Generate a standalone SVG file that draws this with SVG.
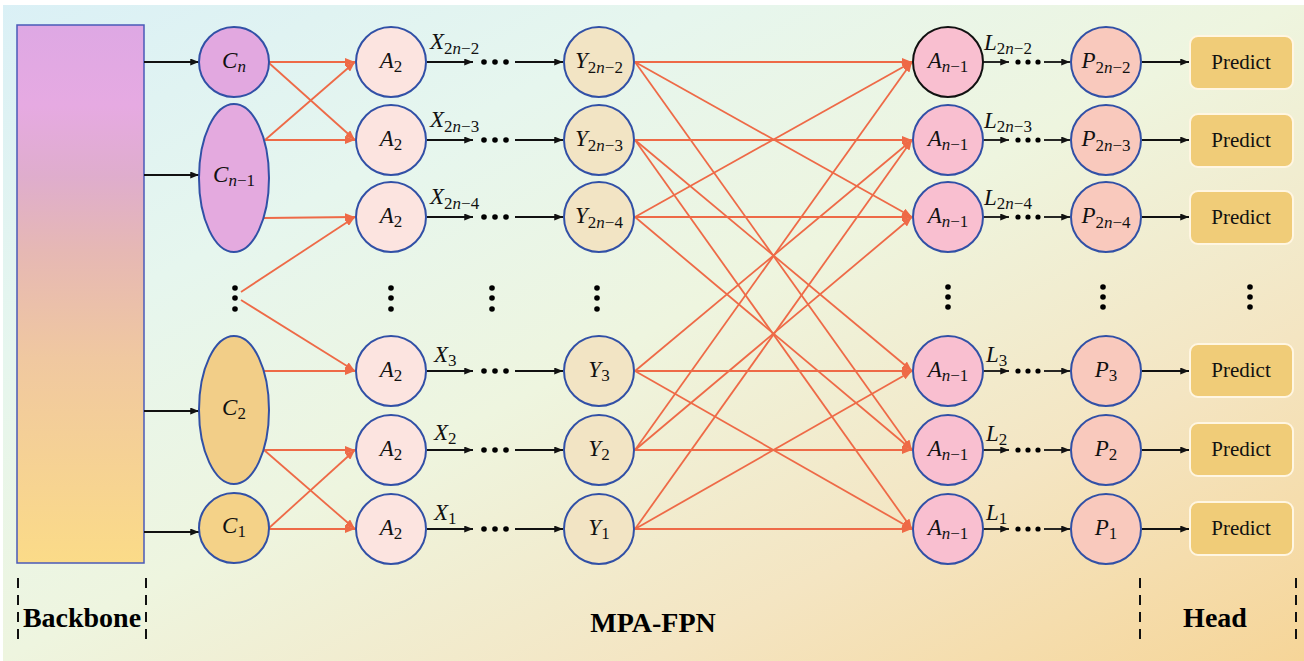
<svg xmlns="http://www.w3.org/2000/svg" width="1304" height="661" viewBox="0 0 1304 661">
  <defs>
    <linearGradient id="bg" gradientUnits="userSpaceOnUse" x1="0" y1="0" x2="533" y2="1052">
      <stop offset="0" stop-color="#daf0f6"/>
      <stop offset="0.27" stop-color="#e6f6ee"/>
      <stop offset="0.5" stop-color="#eef5df"/>
      <stop offset="0.75" stop-color="#f4e5c2"/>
      <stop offset="1" stop-color="#f6d598"/>
    </linearGradient>
    <linearGradient id="bb" x1="0" y1="0" x2="0" y2="1">
      <stop offset="0" stop-color="#dea8e4"/>
      <stop offset="0.15" stop-color="#e6aae2"/>
      <stop offset="0.28" stop-color="#dfadcd"/>
      <stop offset="0.42" stop-color="#e6b8b4"/>
      <stop offset="0.62" stop-color="#f0c8a0"/>
      <stop offset="1" stop-color="#fbdb88"/>
    </linearGradient>
    <marker id="ao" markerUnits="userSpaceOnUse" viewBox="0 0 10 8" markerWidth="10" markerHeight="8" refX="10" refY="4" orient="auto">
      <path d="M0,0 L10,4 L0,8 z" fill="#ee6a47"/>
    </marker>
    <marker id="ab" markerUnits="userSpaceOnUse" viewBox="0 0 10 8" markerWidth="9" markerHeight="7" refX="10" refY="4" orient="auto">
      <path d="M0,0 L10,4 L0,8 z" fill="#111"/>
    </marker>
  </defs>
  <style>
    .node{stroke:#3150a6;stroke-width:2}
    .lbl{font-family:"Liberation Serif","DejaVu Serif",serif;font-size:23px;fill:#111}
    .mid{text-anchor:middle}
    .it{font-style:italic}
    .sub{font-size:17px}
    .oline{stroke:#ee6a47;stroke-width:1.8;fill:none;marker-end:url(#ao)}
    .bline{stroke:#111;stroke-width:1.8;fill:none;marker-end:url(#ab)}
    .dot{fill:#000}
    .dash{stroke:#111;stroke-width:2;stroke-dasharray:10 7}
    .sec{font-family:"Liberation Serif","DejaVu Serif",serif;font-weight:bold;font-size:28px;text-anchor:middle;fill:#000}
    .pred{fill:#f0cc78;stroke:#fff6e2;stroke-width:2}
    .ptxt{font-family:"Liberation Serif","DejaVu Serif",serif;font-size:21px;text-anchor:middle;fill:#111}
  </style>

  <!-- canvas -->
  <rect x="3" y="5" width="1301" height="656" fill="url(#bg)"/>

  <!-- backbone column -->
  <g id="backbone">
    <rect x="17" y="25" width="127" height="538" fill="url(#bb)" stroke="#4a5ab8" stroke-width="1.5"/>
  </g>

  <!-- connectors -->
  <g id="connectors">
    <!-- backbone to C levels -->
    <line class="bline" x1="144" y1="62" x2="199" y2="62"/>
    <line class="bline" x1="144" y1="175" x2="199" y2="175"/>
    <line class="bline" x1="144" y1="411" x2="199" y2="411"/>
    <line class="bline" x1="144" y1="532" x2="199" y2="532"/>

    <!-- C levels to A2 blocks -->
    <path class="oline" d="M269,62 L355,62"/>
    <path class="oline" d="M269,63 L355,140"/>
    <path class="oline" d="M265,140 L355,62"/>
    <path class="oline" d="M265,140 L355,140"/>
    <path class="oline" d="M264,218 L355,217"/>
    <path class="oline" d="M241,292 L355,217"/>
    <path class="oline" d="M241,300 L355,371"/>
    <path class="oline" d="M264,371 L355,371"/>
    <path class="oline" d="M264,450 L355,450"/>
    <path class="oline" d="M264,450 L355,529"/>
    <path class="oline" d="M269,528 L355,450"/>
    <path class="oline" d="M269,529 L355,529"/>

    <!-- A2 to Y chains -->
    <g id="xchains">
      <line class="bline" x1="427" y1="62" x2="473" y2="62"/><line class="bline" x1="515" y1="62" x2="563" y2="62"/>
      <line class="bline" x1="427" y1="140" x2="473" y2="140"/><line class="bline" x1="515" y1="140" x2="563" y2="140"/>
      <line class="bline" x1="427" y1="217" x2="473" y2="217"/><line class="bline" x1="515" y1="217" x2="563" y2="217"/>
      <line class="bline" x1="427" y1="371" x2="473" y2="371"/><line class="bline" x1="515" y1="371" x2="563" y2="371"/>
      <line class="bline" x1="427" y1="450" x2="473" y2="450"/><line class="bline" x1="515" y1="450" x2="563" y2="450"/>
      <line class="bline" x1="427" y1="529" x2="473" y2="529"/><line class="bline" x1="515" y1="529" x2="563" y2="529"/>
    </g>

    <!-- Y to A(n-1) fusion, same-parity levels -->
    <path class="oline" d="M635,62 L912,62"/>
    <path class="oline" d="M635,62 L912,217"/>
    <path class="oline" d="M635,62 L912,450"/>
    <path class="oline" d="M635,140 L912,140"/>
    <path class="oline" d="M635,140 L912,371"/>
    <path class="oline" d="M635,140 L912,529"/>
    <path class="oline" d="M635,217 L912,62"/>
    <path class="oline" d="M635,217 L912,217"/>
    <path class="oline" d="M635,217 L912,450"/>
    <path class="oline" d="M635,371 L912,140"/>
    <path class="oline" d="M635,371 L912,371"/>
    <path class="oline" d="M635,371 L912,529"/>
    <path class="oline" d="M635,450 L912,62"/>
    <path class="oline" d="M635,450 L912,217"/>
    <path class="oline" d="M635,450 L912,450"/>
    <path class="oline" d="M635,529 L912,140"/>
    <path class="oline" d="M635,529 L912,371"/>
    <path class="oline" d="M635,529 L912,529"/>

    <!-- A(n-1) to P chains -->
    <g id="lchains">
      <line class="bline" x1="983" y1="62" x2="1009" y2="62"/><line class="bline" x1="1044" y1="62" x2="1070" y2="62"/>
      <line class="bline" x1="983" y1="140" x2="1009" y2="140"/><line class="bline" x1="1044" y1="140" x2="1070" y2="140"/>
      <line class="bline" x1="983" y1="217" x2="1009" y2="217"/><line class="bline" x1="1044" y1="217" x2="1070" y2="217"/>
      <line class="bline" x1="983" y1="371" x2="1009" y2="371"/><line class="bline" x1="1044" y1="371" x2="1070" y2="371"/>
      <line class="bline" x1="983" y1="450" x2="1009" y2="450"/><line class="bline" x1="1044" y1="450" x2="1070" y2="450"/>
      <line class="bline" x1="983" y1="529" x2="1009" y2="529"/><line class="bline" x1="1044" y1="529" x2="1070" y2="529"/>
    </g>

    <!-- P to heads -->
    <line class="bline" x1="1142" y1="62" x2="1189" y2="62"/>
    <line class="bline" x1="1142" y1="140" x2="1189" y2="140"/>
    <line class="bline" x1="1142" y1="217" x2="1189" y2="217"/>
    <line class="bline" x1="1142" y1="371" x2="1189" y2="371"/>
    <line class="bline" x1="1142" y1="450" x2="1189" y2="450"/>
    <line class="bline" x1="1142" y1="529" x2="1189" y2="529"/>
  </g>

  <!-- ellipsis dots -->
  <g id="ellipses" class="dot">
    <circle cx="484" cy="62" r="2.8"/><circle cx="495" cy="62" r="2.8"/><circle cx="506" cy="62" r="2.8"/>
    <circle cx="484" cy="140" r="2.8"/><circle cx="495" cy="140" r="2.8"/><circle cx="506" cy="140" r="2.8"/>
    <circle cx="484" cy="217" r="2.8"/><circle cx="495" cy="217" r="2.8"/><circle cx="506" cy="217" r="2.8"/>
    <circle cx="484" cy="371" r="2.8"/><circle cx="495" cy="371" r="2.8"/><circle cx="506" cy="371" r="2.8"/>
    <circle cx="484" cy="450" r="2.8"/><circle cx="495" cy="450" r="2.8"/><circle cx="506" cy="450" r="2.8"/>
    <circle cx="484" cy="529" r="2.8"/><circle cx="495" cy="529" r="2.8"/><circle cx="506" cy="529" r="2.8"/>

    <circle cx="1018" cy="62" r="2.6"/><circle cx="1028" cy="62" r="2.6"/><circle cx="1038" cy="62" r="2.6"/>
    <circle cx="1018" cy="140" r="2.6"/><circle cx="1028" cy="140" r="2.6"/><circle cx="1038" cy="140" r="2.6"/>
    <circle cx="1018" cy="217" r="2.6"/><circle cx="1028" cy="217" r="2.6"/><circle cx="1038" cy="217" r="2.6"/>
    <circle cx="1018" cy="371" r="2.6"/><circle cx="1028" cy="371" r="2.6"/><circle cx="1038" cy="371" r="2.6"/>
    <circle cx="1018" cy="450" r="2.6"/><circle cx="1028" cy="450" r="2.6"/><circle cx="1038" cy="450" r="2.6"/>
    <circle cx="1018" cy="529" r="2.6"/><circle cx="1028" cy="529" r="2.6"/><circle cx="1038" cy="529" r="2.6"/>

    <circle cx="235" cy="288" r="2.8"/><circle cx="235" cy="298" r="2.8"/><circle cx="235" cy="309" r="2.8"/>
    <circle cx="391" cy="288" r="2.8"/><circle cx="391" cy="298" r="2.8"/><circle cx="391" cy="309" r="2.8"/>
    <circle cx="492" cy="288" r="2.8"/><circle cx="492" cy="298" r="2.8"/><circle cx="492" cy="309" r="2.8"/>
    <circle cx="597" cy="288" r="2.8"/><circle cx="597" cy="298" r="2.8"/><circle cx="597" cy="309" r="2.8"/>
    <circle cx="948" cy="287" r="2.8"/><circle cx="948" cy="297" r="2.8"/><circle cx="948" cy="307" r="2.8"/>
    <circle cx="1103" cy="287" r="2.8"/><circle cx="1103" cy="297" r="2.8"/><circle cx="1103" cy="307" r="2.8"/>
    <circle cx="1250" cy="287" r="2.8"/><circle cx="1250" cy="297" r="2.8"/><circle cx="1250" cy="307" r="2.8"/>
  </g>

  <!-- chain labels -->
  <g id="xlabels" class="lbl">
    <text x="430" y="49"><tspan class="it">X</tspan><tspan class="sub" dy="5">2<tspan class="it">n</tspan>−2</tspan></text>
    <text x="430" y="127"><tspan class="it">X</tspan><tspan class="sub" dy="5">2<tspan class="it">n</tspan>−3</tspan></text>
    <text x="430" y="204"><tspan class="it">X</tspan><tspan class="sub" dy="5">2<tspan class="it">n</tspan>−4</tspan></text>
    <text x="434" y="362"><tspan class="it">X</tspan><tspan class="sub" dy="4">3</tspan></text>
    <text x="434" y="440"><tspan class="it">X</tspan><tspan class="sub" dy="4">2</tspan></text>
    <text x="434" y="520"><tspan class="it">X</tspan><tspan class="sub" dy="4">1</tspan></text>
  </g>
  <g id="llabels" class="lbl">
    <text x="984" y="50"><tspan class="it">L</tspan><tspan class="sub" dy="4">2<tspan class="it">n</tspan>−2</tspan></text>
    <text x="984" y="128"><tspan class="it">L</tspan><tspan class="sub" dy="4">2<tspan class="it">n</tspan>−3</tspan></text>
    <text x="984" y="205"><tspan class="it">L</tspan><tspan class="sub" dy="4">2<tspan class="it">n</tspan>−4</tspan></text>
    <text x="986" y="362"><tspan class="it">L</tspan><tspan class="sub" dy="4">3</tspan></text>
    <text x="986" y="441"><tspan class="it">L</tspan><tspan class="sub" dy="4">2</tspan></text>
    <text x="986" y="520"><tspan class="it">L</tspan><tspan class="sub" dy="4">1</tspan></text>
  </g>

  <!-- C levels -->
  <g id="c-n">
    <circle class="node" cx="234" cy="62" r="35" fill="#e2a8e0"/>
    <text class="lbl mid" x="234" y="68"><tspan class="it">C</tspan><tspan class="sub it" dy="4">n</tspan></text>
  </g>
  <g id="c-n-1">
    <ellipse class="node" cx="234" cy="178" rx="35" ry="74" fill="#e4aadf"/>
    <text class="lbl mid" x="234" y="182"><tspan class="it">C</tspan><tspan class="sub" dy="4"><tspan class="it">n</tspan>−1</tspan></text>
  </g>
  <g id="c-2">
    <ellipse class="node" cx="234" cy="410" rx="35" ry="74" fill="#f2ce88"/>
    <text class="lbl mid" x="234" y="415"><tspan class="it">C</tspan><tspan class="sub" dy="4">2</tspan></text>
  </g>
  <g id="c-1">
    <circle class="node" cx="234" cy="528" r="35" fill="#f4d288"/>
    <text class="lbl mid" x="234" y="533"><tspan class="it">C</tspan><tspan class="sub" dy="4">1</tspan></text>
  </g>

  <!-- A2 blocks -->
  <g id="a2-6"><circle class="node" cx="391" cy="62" r="35" fill="#fce4e0"/><text class="lbl mid" x="391" y="68"><tspan class="it">A</tspan><tspan class="sub" dy="4">2</tspan></text></g>
  <g id="a2-5"><circle class="node" cx="391" cy="140" r="35" fill="#fce4e0"/><text class="lbl mid" x="391" y="146"><tspan class="it">A</tspan><tspan class="sub" dy="4">2</tspan></text></g>
  <g id="a2-4"><circle class="node" cx="391" cy="217" r="35" fill="#fce4e0"/><text class="lbl mid" x="391" y="223"><tspan class="it">A</tspan><tspan class="sub" dy="4">2</tspan></text></g>
  <g id="a2-3"><circle class="node" cx="391" cy="371" r="35" fill="#fce4e0"/><text class="lbl mid" x="391" y="377"><tspan class="it">A</tspan><tspan class="sub" dy="4">2</tspan></text></g>
  <g id="a2-2"><circle class="node" cx="391" cy="450" r="35" fill="#fce4e0"/><text class="lbl mid" x="391" y="456"><tspan class="it">A</tspan><tspan class="sub" dy="4">2</tspan></text></g>
  <g id="a2-1"><circle class="node" cx="391" cy="529" r="35" fill="#fce4e0"/><text class="lbl mid" x="391" y="535"><tspan class="it">A</tspan><tspan class="sub" dy="4">2</tspan></text></g>

  <!-- Y blocks -->
  <g id="y-2n-2"><circle class="node" cx="599" cy="62" r="35" fill="#f2e4c4"/><text class="lbl mid" x="599" y="68"><tspan class="it">Y</tspan><tspan class="sub" dy="5">2<tspan class="it">n</tspan>−2</tspan></text></g>
  <g id="y-2n-3"><circle class="node" cx="599" cy="140" r="35" fill="#f2e4c4"/><text class="lbl mid" x="599" y="146"><tspan class="it">Y</tspan><tspan class="sub" dy="5">2<tspan class="it">n</tspan>−3</tspan></text></g>
  <g id="y-2n-4"><circle class="node" cx="599" cy="217" r="35" fill="#f2e4c4"/><text class="lbl mid" x="599" y="223"><tspan class="it">Y</tspan><tspan class="sub" dy="5">2<tspan class="it">n</tspan>−4</tspan></text></g>
  <g id="y-3"><circle class="node" cx="599" cy="371" r="35" fill="#f2e4c4"/><text class="lbl mid" x="599" y="377"><tspan class="it">Y</tspan><tspan class="sub" dy="4">3</tspan></text></g>
  <g id="y-2"><circle class="node" cx="599" cy="450" r="35" fill="#f2e4c4"/><text class="lbl mid" x="599" y="456"><tspan class="it">Y</tspan><tspan class="sub" dy="4">2</tspan></text></g>
  <g id="y-1"><circle class="node" cx="599" cy="529" r="35" fill="#f2e4c4"/><text class="lbl mid" x="599" y="535"><tspan class="it">Y</tspan><tspan class="sub" dy="4">1</tspan></text></g>

  <!-- A(n-1) blocks -->
  <g id="an-6"><circle cx="948" cy="62" r="35" fill="#f9bfd0" stroke="#111" stroke-width="2"/><text class="lbl mid" x="948" y="68"><tspan class="it">A</tspan><tspan class="sub" dy="4"><tspan class="it">n</tspan>−1</tspan></text></g>
  <g id="an-5"><circle class="node" cx="948" cy="140" r="35" fill="#f9bfd0"/><text class="lbl mid" x="948" y="146"><tspan class="it">A</tspan><tspan class="sub" dy="4"><tspan class="it">n</tspan>−1</tspan></text></g>
  <g id="an-4"><circle class="node" cx="948" cy="217" r="35" fill="#f9bfd0"/><text class="lbl mid" x="948" y="223"><tspan class="it">A</tspan><tspan class="sub" dy="4"><tspan class="it">n</tspan>−1</tspan></text></g>
  <g id="an-3"><circle class="node" cx="948" cy="371" r="35" fill="#f9bfd0"/><text class="lbl mid" x="948" y="377"><tspan class="it">A</tspan><tspan class="sub" dy="4"><tspan class="it">n</tspan>−1</tspan></text></g>
  <g id="an-2"><circle class="node" cx="948" cy="450" r="35" fill="#f9bfd0"/><text class="lbl mid" x="948" y="456"><tspan class="it">A</tspan><tspan class="sub" dy="4"><tspan class="it">n</tspan>−1</tspan></text></g>
  <g id="an-1"><circle class="node" cx="948" cy="529" r="35" fill="#f9bfd0"/><text class="lbl mid" x="948" y="535"><tspan class="it">A</tspan><tspan class="sub" dy="4"><tspan class="it">n</tspan>−1</tspan></text></g>

  <!-- P blocks -->
  <g id="p-2n-2"><circle class="node" cx="1106" cy="62" r="35" fill="#f9c9bd"/><text class="lbl mid" x="1106" y="68"><tspan class="it">P</tspan><tspan class="sub" dy="5">2<tspan class="it">n</tspan>−2</tspan></text></g>
  <g id="p-2n-3"><circle class="node" cx="1106" cy="140" r="35" fill="#f9c9bd"/><text class="lbl mid" x="1106" y="146"><tspan class="it">P</tspan><tspan class="sub" dy="5">2<tspan class="it">n</tspan>−3</tspan></text></g>
  <g id="p-2n-4"><circle class="node" cx="1106" cy="217" r="35" fill="#f9c9bd"/><text class="lbl mid" x="1106" y="223"><tspan class="it">P</tspan><tspan class="sub" dy="5">2<tspan class="it">n</tspan>−4</tspan></text></g>
  <g id="p-3"><circle class="node" cx="1106" cy="371" r="35" fill="#f9c9bd"/><text class="lbl mid" x="1106" y="377"><tspan class="it">P</tspan><tspan class="sub" dy="4">3</tspan></text></g>
  <g id="p-2"><circle class="node" cx="1106" cy="450" r="35" fill="#f9c9bd"/><text class="lbl mid" x="1106" y="456"><tspan class="it">P</tspan><tspan class="sub" dy="4">2</tspan></text></g>
  <g id="p-1"><circle class="node" cx="1106" cy="529" r="35" fill="#f9c9bd"/><text class="lbl mid" x="1106" y="535"><tspan class="it">P</tspan><tspan class="sub" dy="4">1</tspan></text></g>

  <!-- prediction heads -->
  <g id="head-6"><rect class="pred" x="1190" y="36" width="103" height="53" rx="8"/><text class="ptxt" x="1241" y="69">Predict</text></g>
  <g id="head-5"><rect class="pred" x="1190" y="114" width="103" height="53" rx="8"/><text class="ptxt" x="1241" y="147">Predict</text></g>
  <g id="head-4"><rect class="pred" x="1190" y="191" width="103" height="53" rx="8"/><text class="ptxt" x="1241" y="224">Predict</text></g>
  <g id="head-3"><rect class="pred" x="1190" y="344" width="103" height="53" rx="8"/><text class="ptxt" x="1241" y="377">Predict</text></g>
  <g id="head-2"><rect class="pred" x="1190" y="423" width="103" height="53" rx="8"/><text class="ptxt" x="1241" y="456">Predict</text></g>
  <g id="head-1"><rect class="pred" x="1190" y="502" width="103" height="53" rx="8"/><text class="ptxt" x="1241" y="535">Predict</text></g>

  <!-- section markers -->
  <g id="sections">
    <line class="dash" x1="18" y1="578" x2="18" y2="643"/>
    <line class="dash" x1="146" y1="578" x2="146" y2="643"/>
    <line class="dash" x1="1140" y1="578" x2="1140" y2="643"/>
    <line class="dash" x1="1296" y1="578" x2="1296" y2="643"/>
    <text class="sec" x="82" y="627">Backbone</text>
    <text class="sec" x="653" y="632">MPA-FPN</text>
    <text class="sec" x="1215" y="627">Head</text>
  </g>
</svg>
